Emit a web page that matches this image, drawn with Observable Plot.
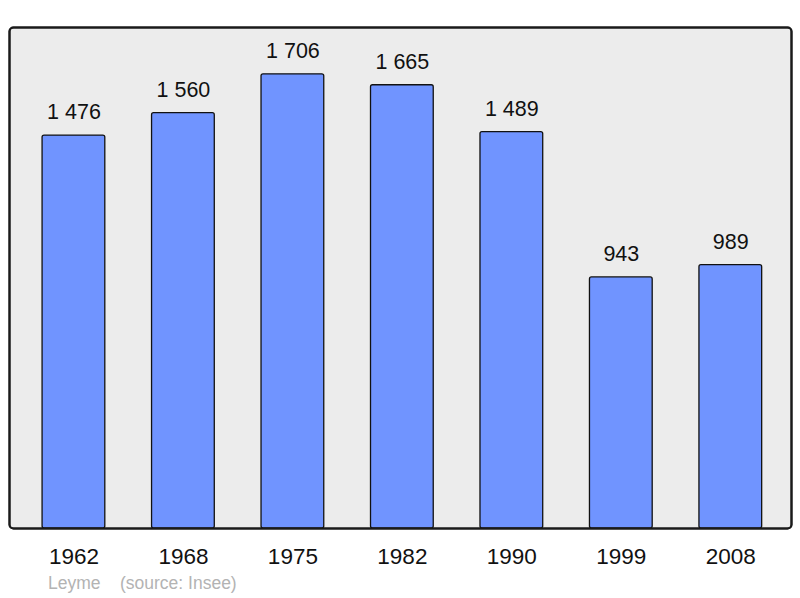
<!DOCTYPE html>
<html>
<head>
<meta charset="utf-8">
<script src="https://cdn.jsdelivr.net/npm/d3@7"></script>
<script src="https://cdn.jsdelivr.net/npm/@observablehq/plot@0.6"></script>
<style>
  html, body { margin: 0; padding: 0; background: #fff; }
  body { width: 800px; height: 598px; overflow: hidden; font-family: "Liberation Sans", Arial, sans-serif; }
  #caption { position: absolute; left: 48px; top: 573px; font-size: 17.5px; color: #b3b3b3; white-space: pre; }
</style>
</head>
<body>
<div id="chart"></div>
<div id="caption">Leyme    (source: Insee)</div>
<script>
const years = ["1962", "1968", "1975", "1982", "1990", "1999", "2008"];
const population = [1476, 1560, 1706, 1665, 1489, 943, 989];
const valueLabels = ["1 476", "1 560", "1 706", "1 665", "1 489", "943", "989"];

const data = years.map((y, i) => ({year: y, pop: population[i], label: valueLabels[i]}));

const chart = Plot.plot({
  width: 800,
  height: 571,
  marginTop: 27,
  marginBottom: 43,
  marginLeft: 9,
  marginRight: 9,
  style: {fontFamily: "'Liberation Sans', Arial, sans-serif", background: "#fff"},
  x: {domain: years, paddingInner: 0.427, paddingOuter: 0.285, align: 0.53, round: false, label: null},
  y: {domain: [0, 1882], axis: null},
  marks: [
    Plot.frame({fill: "#ececec", stroke: "#1a1a1a", strokeWidth: 2, rx: 4}),
    Plot.barY(data, {x: "year", y: "pop", fill: "#7094ff", stroke: "#111", strokeWidth: 1.3, rx: 2}),
    Plot.text(data, {x: "year", y: "pop", text: "label", dy: -23, fontSize: 21.5, fill: "#111", lineAnchor: "middle"}),
    Plot.axisX({tickSize: 0, tickPadding: 20, fontSize: 22.5, fill: "#111"}),
    Plot.frame({stroke: "#1a1a1a", strokeWidth: 2, rx: 4})
  ]
});
document.getElementById("chart").appendChild(chart);
</script>
</body>
</html>
